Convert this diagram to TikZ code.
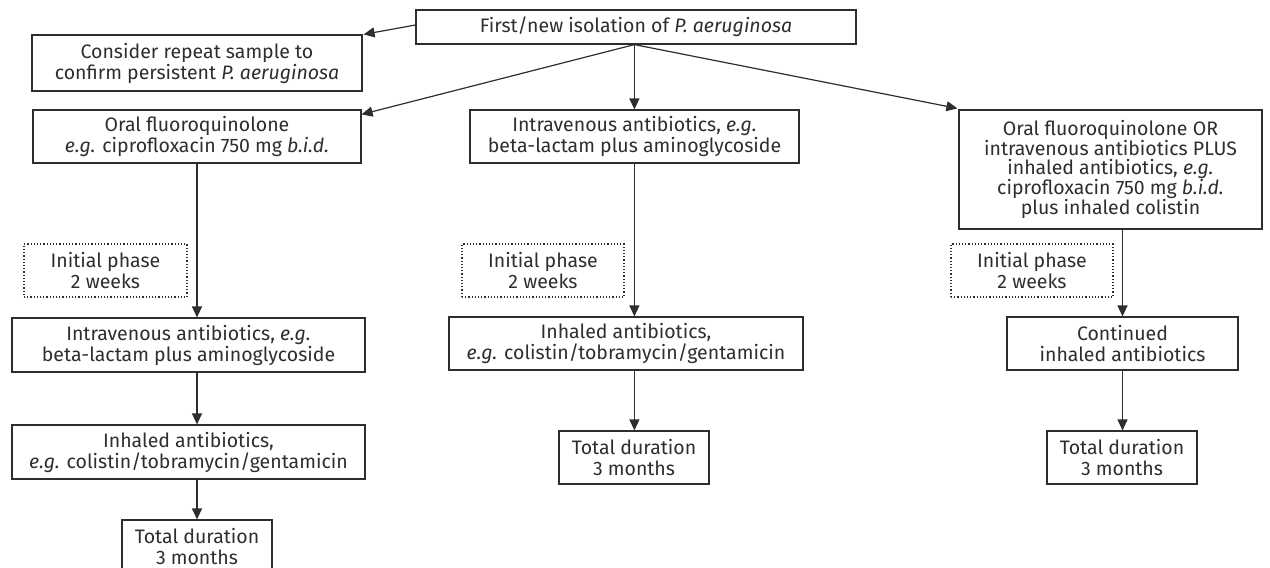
\documentclass[tikz,border=0pt]{standalone}
\usepackage{fontspec}
\setmainfont{Fira Sans}
\usetikzlibrary{arrows.meta,calc}
\definecolor{ink}{HTML}{2E2E2E}
\begin{document}
\begin{tikzpicture}[x=1pt,y=-1pt,
  box/.style={draw=ink,line width=1.2pt,text=ink,align=center,inner sep=0pt,
    font=\fontsize{19.5}{21}\selectfont},
  dotbox/.style={box,dotted,line width=1.1pt},
  arr/.style={draw=ink,line width=1.2pt,-{Triangle[length=11pt,width=10pt]}}]
\useasboundingbox (0,0) rectangle (1270,568);
\fill[white] (0,0) rectangle (1270,568);
% nodes
\node[box,minimum width=440pt,minimum height=34pt] (top) at (636,27) {First/new isolation of \textit{P. aeruginosa}};
\node[box,minimum width=330pt,minimum height=56pt] (consider) at (197,63) {Consider repeat sample to\\confirm persistent \textit{P. aeruginosa}};
\node[box,minimum width=328pt,minimum height=53pt] (oral) at (197,136.5) {Oral fluoroquinolone\\\textit{e.g.} ciprofloxacin 750 mg \textit{b.i.d.}};
\node[box,minimum width=329pt,minimum height=53pt] (mid) at (634.5,136.5) {Intravenous antibiotics, \textit{e.g.}\\beta-lactam plus aminoglycoside};
\node[box,minimum width=303pt,minimum height=119pt,font=\fontsize{19.5}{18.6}\selectfont] (right) at (1110.5,169.5) {Oral fluoroquinolone OR\\intravenous antibiotics PLUS\\inhaled antibiotics, \textit{e.g.}\\ciprofloxacin 750 mg \textit{b.i.d.}\\plus inhaled colistin};
\node[dotbox,minimum width=163pt,minimum height=53pt] (dL) at (105.5,270.5) {Initial phase\\2 weeks};
\node[dotbox,minimum width=162pt,minimum height=53pt] (dM) at (543,270.5) {Initial phase\\2 weeks};
\node[dotbox,minimum width=162pt,minimum height=53pt] (dR) at (1032,270.5) {Initial phase\\2 weeks};
\node[box,minimum width=353pt,minimum height=54pt] (LIV) at (188.5,345) {Intravenous antibiotics, \textit{e.g.}\\beta-lactam plus aminoglycoside};
\node[box,minimum width=353pt,minimum height=54pt] (Linh) at (188.5,452) {Inhaled antibiotics,\\\textit{e.g.} colistin/tobramycin/gentamicin};
\node[box,minimum width=150pt,minimum height=54pt] (Ltot) at (197,547) {Total duration\\3 months};
\node[box,minimum width=354pt,minimum height=53pt] (Minh) at (626,343.5) {Inhaled antibiotics,\\\textit{e.g.} colistin/tobramycin/gentamicin};
\node[box,minimum width=150pt,minimum height=53pt] (Mtot) at (634,457.5) {Total duration\\3 months};
\node[box,minimum width=231pt,minimum height=53pt] (Rcont) at (1122.5,343.5) {Continued\\inhaled antibiotics};
\node[box,minimum width=150pt,minimum height=53pt] (Rtot) at (1122,457.5) {Total duration\\3 months};
% helper coordinates
\coordinate (src) at ($(top.south west)+(219,0)$);
\coordinate (srcL) at ($(top.west)+(0,-2)$);
\coordinate (tipC) at ($(consider.north east)+(1,0)$);
\coordinate (tipO) at ($(oral.north east)+(0,5)$);
\coordinate (tipR) at ($(right.north west)+(-1,-1)$);
% connectors
\draw[arr] (srcL) -- (tipC);
\draw[arr] (src) -- (tipO);
\draw[arr] (src) -- (src |- mid.north);
\draw[arr] (src) -- (tipR);
\draw[arr] (oral.south) -- (oral.south |- LIV.north);
\draw[arr] (oral.south |- LIV.south) -- (oral.south |- Linh.north);
\draw[arr] (oral.south |- Linh.south) -- (Ltot.north);
\draw[arr] (mid.south -| src) -- (src |- Minh.north);
\draw[arr] (src |- Minh.south) -- (src |- Mtot.north);
\draw[arr] (Rcont.north |- right.south) -- (Rcont.north);
\draw[arr] (Rcont.south) -- (Rcont.south |- Rtot.north);
\end{tikzpicture}
\end{document}
